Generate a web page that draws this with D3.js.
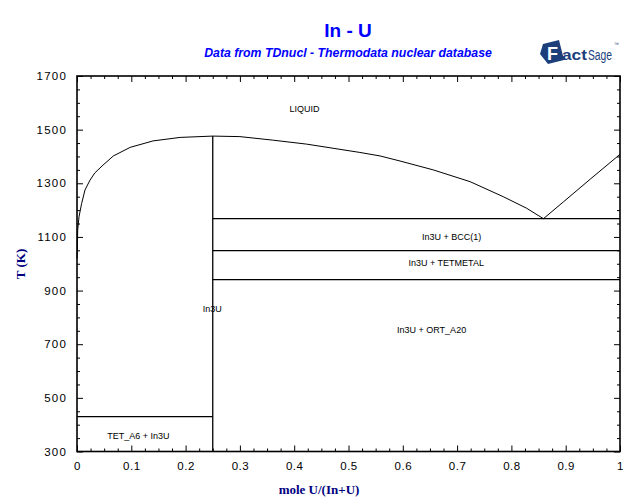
<!DOCTYPE html>
<html><head><meta charset="utf-8">
<script src="https://cdn.jsdelivr.net/npm/d3@7"></script>
<style>
html,body{margin:0;padding:0;background:#fff;}
svg{display:block;}
</style></head>
<body>
<svg id="chart" width="640" height="504"></svg>
<script>
// ---- data ----
const xDomain = [0, 1];
const yDomain = [300, 1700];
const xTickValues = [0, 0.1, 0.2, 0.3, 0.4, 0.5, 0.6, 0.7, 0.8, 0.9, 1];
const xTickLabels = ["0", "0.1", "0.2", "0.3", "0.4", "0.5", "0.6", "0.7", "0.8", "0.9", "1"];
const yTickValues = [300, 500, 700, 900, 1100, 1300, 1500, 1700];
const yTickLabels = ["300", "500", "700", "900", "1100", "1300", "1500", "1700"];

// liquidus In-rich side up to In3U congruent melting
const liqInX = [0.0003, 0.0013, 0.0037, 0.0086, 0.0147, 0.024, 0.033, 0.048, 0.067, 0.098, 0.14, 0.19, 0.25];
const liqInT = [1020, 1126, 1175, 1225, 1275, 1312, 1339, 1368, 1402, 1434, 1458, 1471, 1476];
// liquidus from In3U to eutectic
const liqMidX = [0.25, 0.30, 0.36, 0.423, 0.521, 0.558, 0.595, 0.656, 0.724, 0.785, 0.828, 0.859];
const liqMidT = [1476, 1474, 1461, 1446, 1415, 1402, 1383, 1350, 1306, 1250, 1207, 1168];
// liquidus U-rich side
const liqUX = [0.859, 0.896, 0.945, 1.0];
const liqUT = [1168, 1231, 1315, 1408];

// invariant lines: [x1, x2, T]
const invX1 = [0.25, 0.25, 0.25, 0];
const invX2 = [1, 1, 1, 0.25];
const invT = [1168, 1049, 941, 429.75];
// In3U compound line
const compoundX = [0.25];
const compoundTlow = [300];
const compoundThigh = [1476];

// phase labels
const labelText = ["LIQUID", "In3U + BCC(1)", "In3U + TETMETAL", "In3U + ORT_A20", "In3U", "TET_A6 + In3U"];
const labelX = [0.419, 0.69, 0.68, 0.653, 0.249, 0.113];
const labelT = [1579, 1100, 1004, 755, 832, 357];

// ---- drawing ----
const svg = d3.select("#chart");
const L = 77, R = 620, T = 76, B = 451.5;
const x = d3.scaleLinear().domain(xDomain).range([L, R]);
const y = d3.scaleLinear().domain(yDomain).range([B, T]);
const tickFont = "'Liberation Sans', Arial, sans-serif";

// title
svg.append("text").attr("x", 348).attr("y", 37).attr("text-anchor", "middle")
  .attr("font-family", "'Liberation Sans', Arial, sans-serif").attr("font-weight", "bold")
  .attr("font-size", 19).attr("fill", "#0000ff").text("In - U");
svg.append("text").attr("x", 348).attr("y", 57).attr("text-anchor", "middle")
  .attr("font-family", "'Liberation Sans', Arial, sans-serif").attr("font-weight", "bold")
  .attr("font-style", "italic").attr("font-size", 12.3).attr("fill", "#0000ff")
  .text("Data from TDnucl - Thermodata nuclear database");

// logo
const logo = svg.append("g").attr("transform", "translate(540,40)");
logo.append("path").attr("d", "M3,4 L19,0 L24,20 L8,24 L0,14 Z").attr("fill", "#1c3f7c");
logo.append("text").attr("x", 7).attr("y", 20).attr("font-family", "'Liberation Sans', Arial, sans-serif")
  .attr("font-weight", "bold").attr("font-size", 18).attr("fill", "#ffffff").text("F");
logo.append("text").attr("x", 22).attr("y", 20).attr("font-family", "'Liberation Sans', Arial, sans-serif")
  .attr("font-weight", "bold").attr("font-size", 14).attr("fill", "#1c3f7c")
  .attr("textLength", 25).attr("lengthAdjust", "spacingAndGlyphs").text("act");
logo.append("text").attr("x", 48).attr("y", 20).attr("font-family", "'Liberation Sans', Arial, sans-serif")
  .attr("font-size", 14).attr("fill", "#1c3f7c").attr("textLength", 24).attr("lengthAdjust", "spacingAndGlyphs").text("Sage");
logo.append("text").attr("x", 74).attr("y", 6).attr("font-family", "'Liberation Sans', Arial, sans-serif")
  .attr("font-size", 5).attr("fill", "#1c3f7c").text("™");

// axes via d3 axes (inward ticks)
const xMinor = d3.range(0, 1.0001, 0.025);
const yMinor = d3.range(300, 1700.1, 50);
function minorFilter(vals, majors) { return vals.filter(v => !majors.some(m => Math.abs(m - v) < 1e-6)); }

// bottom
svg.append("g").attr("transform", `translate(0,${B})`)
  .call(d3.axisTop(x).tickValues(minorFilter(xMinor, xTickValues)).tickSize(3).tickFormat(""))
  .call(g => g.select(".domain").remove());
svg.append("g").attr("transform", `translate(0,${B})`)
  .call(d3.axisTop(x).tickValues(xTickValues).tickSize(6).tickFormat(""))
  .call(g => g.select(".domain").remove());
// labels bottom
svg.append("g").attr("transform", `translate(0,${B})`)
  .call(d3.axisBottom(x).tickValues(xTickValues).tickSize(0).tickPadding(10)
    .tickFormat((d, i) => xTickLabels[i]))
  .call(g => g.select(".domain").remove())
  .call(g => g.selectAll("text").attr("font-family", tickFont).attr("font-size", 11.5).attr("fill", "#000").attr("letter-spacing", 0.5));
// top
svg.append("g").attr("transform", `translate(0,${T})`)
  .call(d3.axisBottom(x).tickValues(minorFilter(xMinor, xTickValues)).tickSize(3).tickFormat(""))
  .call(g => g.select(".domain").remove());
svg.append("g").attr("transform", `translate(0,${T})`)
  .call(d3.axisBottom(x).tickValues(xTickValues).tickSize(6).tickFormat(""))
  .call(g => g.select(".domain").remove());
// left
svg.append("g").attr("transform", `translate(${L},0)`)
  .call(d3.axisRight(y).tickValues(minorFilter(yMinor, yTickValues)).tickSize(3).tickFormat(""))
  .call(g => g.select(".domain").remove());
svg.append("g").attr("transform", `translate(${L},0)`)
  .call(d3.axisRight(y).tickValues(yTickValues).tickSize(6).tickFormat(""))
  .call(g => g.select(".domain").remove());
svg.append("g").attr("transform", `translate(${L},0)`)
  .call(d3.axisLeft(y).tickValues(yTickValues).tickSize(0).tickPadding(10)
    .tickFormat((d, i) => yTickLabels[i]))
  .call(g => g.select(".domain").remove())
  .call(g => g.selectAll("text").attr("font-family", tickFont).attr("font-size", 11.5).attr("fill", "#000").attr("letter-spacing", 1.2));
// right
svg.append("g").attr("transform", `translate(${R},0)`)
  .call(d3.axisLeft(y).tickValues(minorFilter(yMinor, yTickValues)).tickSize(3).tickFormat(""))
  .call(g => g.select(".domain").remove());
svg.append("g").attr("transform", `translate(${R},0)`)
  .call(d3.axisLeft(y).tickValues(yTickValues).tickSize(6).tickFormat(""))
  .call(g => g.select(".domain").remove());
svg.selectAll(".tick line").attr("stroke", "#000").attr("stroke-width", 1);

// frame
svg.append("rect").attr("x", L).attr("y", T).attr("width", R - L).attr("height", B - T)
  .attr("fill", "none").attr("stroke", "#000").attr("stroke-width", 1.6);

// curves
const line = d3.line().x(d => x(d[0])).y(d => y(d[1]));
const plot = svg.append("g").attr("fill", "none").attr("stroke", "#000").attr("stroke-width", 1);
[[liqInX, liqInT], [liqMidX, liqMidT], [liqUX, liqUT]].forEach(([xs, ts]) => {
  plot.append("path").attr("d", line(xs.map((v, i) => [v, ts[i]])));
});
invT.forEach((t, i) => {
  plot.append("path").attr("stroke-width", 1.3).attr("d", line([[invX1[i], t], [invX2[i], t]]));
});
compoundX.forEach((c, i) => {
  plot.append("path").attr("stroke-width", 1.3).attr("d", line([[c, compoundTlow[i]], [c, compoundThigh[i]]]));
});

// phase labels
labelText.forEach((s, i) => {
  svg.append("text").attr("x", x(labelX[i])).attr("y", y(labelT[i])).attr("dy", "0.35em")
    .attr("text-anchor", "middle").attr("font-family", tickFont).attr("font-size", 9)
    .attr("fill", "#000").text(s);
});

// axis titles
svg.append("text").attr("x", 319).attr("y", 494).attr("text-anchor", "middle")
  .attr("font-family", "'Liberation Serif', 'Times New Roman', serif").attr("font-weight", "bold")
  .attr("font-size", 13).attr("fill", "#000080").text("mole U/(In+U)");
svg.append("text").attr("transform", "translate(25,264) rotate(-90)").attr("text-anchor", "middle")
  .attr("font-family", "'Liberation Serif', 'Times New Roman', serif").attr("font-weight", "bold")
  .attr("font-size", 13).attr("fill", "#000080").text("T (K)");
</script>
</body></html>
